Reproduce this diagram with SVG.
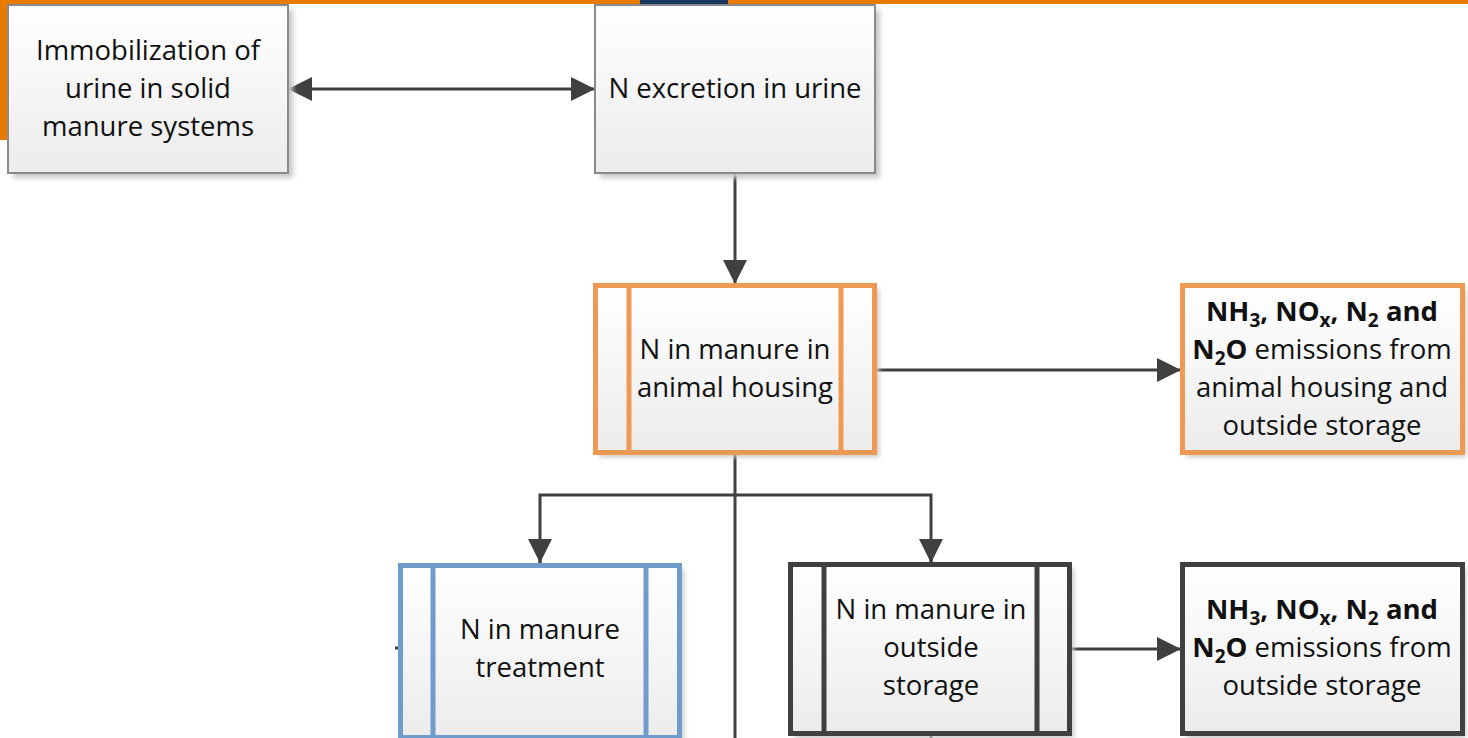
<svg xmlns="http://www.w3.org/2000/svg" width="1468" height="738" viewBox="0 0 1468 738">
<defs>
  <linearGradient id="fillGrad" x1="0" y1="0" x2="0" y2="1">
    <stop offset="0" stop-color="#ffffff"/>
    <stop offset="1" stop-color="#ececec"/>
  </linearGradient>
  <filter id="shadow" x="-10%" y="-10%" width="130%" height="130%">
    <feGaussianBlur stdDeviation="2.5"/>
  </filter>
  <marker id="arrowBig" viewBox="0 0 10 10" refX="10" refY="5" markerWidth="24" markerHeight="24" markerUnits="userSpaceOnUse" orient="auto-start-reverse" preserveAspectRatio="none">
    <path d="M0,0 L10,5 L0,10 z" fill="#404040"/>
  </marker>
</defs>
<style>
  .txt { font-family: "Open Sans", "Noto Sans", "Liberation Sans", sans-serif; font-size: 27.5px; fill: #111; text-anchor: middle; }
  .b { font-weight: bold; }
  .sub { font-size: 19px; }
  .shd { fill: #c8c8c8; filter: url(#shadow); }
  .plain { fill: url(#fillGrad); stroke: #8a8a8a; stroke-width: 2; }
  .orange { fill: url(#fillGrad); stroke: #EE9A55; stroke-width: 5; }
  .blue { fill: url(#fillGrad); stroke: #6E9CCB; stroke-width: 5; }
  .dark { fill: url(#fillGrad); stroke: #404040; stroke-width: 5; }
  .conn { fill: none; stroke: #404040; stroke-width: 3; }
</style>

<rect width="1468" height="738" fill="#ffffff"/>

<!-- page header band -->
<rect x="0" y="0" width="1468" height="4" fill="#E87A00"/>
<rect x="0" y="0" width="7" height="140" fill="#E87A00"/>
<rect x="640" y="0" width="88" height="4" fill="#17375E"/>

<!-- connectors -->
<g id="connectors">
  <line class="conn" x1="288" y1="89" x2="595" y2="89" marker-start="url(#arrowBig)" marker-end="url(#arrowBig)"/>
  <line class="conn" x1="735" y1="173" x2="735" y2="284" marker-end="url(#arrowBig)"/>
  <line class="conn" x1="876" y1="370" x2="1181" y2="370" marker-end="url(#arrowBig)"/>
  <line class="conn" x1="735" y1="454" x2="735" y2="738"/>
  <polyline class="conn" points="540,563 540,495 931,495 931,563"/>
  <line class="conn" x1="540" y1="540" x2="540" y2="563" marker-end="url(#arrowBig)"/>
  <line class="conn" x1="931" y1="540" x2="931" y2="563" marker-end="url(#arrowBig)"/>
  <line class="conn" x1="1071" y1="649" x2="1181" y2="649" marker-end="url(#arrowBig)"/>
  <line class="conn" x1="395" y1="648" x2="400" y2="648"/>
  <line class="conn" x1="540" y1="736" x2="540" y2="738"/>
  <line class="conn" x1="931" y1="736" x2="931" y2="738"/>
</g>

<!-- Immobilization of urine -->
<g id="node-immobilization">
  <rect class="shd" x="13" y="10" width="280" height="168"/>
  <rect class="plain" x="8" y="5" width="280" height="168"/>
  <text class="txt" x="148" y="60">Immobilization of</text>
  <text class="txt" x="148" y="98">urine in solid</text>
  <text class="txt" x="148" y="136">manure systems</text>
</g>

<!-- N excretion in urine -->
<g id="node-excretion">
  <rect class="shd" x="600" y="10" width="280" height="168"/>
  <rect class="plain" x="595" y="5" width="280" height="168"/>
  <text class="txt" x="735" y="98">N excretion in urine</text>
</g>

<!-- N in manure in animal housing -->
<g id="node-housing">
  <rect class="shd" x="599" y="289" width="280" height="168"/>
  <rect class="orange" x="595.5" y="285.5" width="279" height="167"/>
  <line x1="629" y1="285.5" x2="629" y2="452.5" stroke="#EE9A55" stroke-width="5"/>
  <line x1="841" y1="285.5" x2="841" y2="452.5" stroke="#EE9A55" stroke-width="5"/>
  <text class="txt" x="735" y="359">N in manure in</text>
  <text class="txt" x="735" y="397">animal housing</text>
</g>

<!-- emissions from animal housing and outside storage -->
<g id="node-emissions-housing">
  <rect class="shd" x="1186" y="289" width="280" height="168"/>
  <rect class="orange" x="1182.5" y="285.5" width="280" height="167"/>
  <text class="txt" x="1322" y="321"><tspan class="b">NH</tspan><tspan class="b sub" dy="6">3</tspan><tspan class="b" dy="-6">, NO</tspan><tspan class="b sub" dy="6">x</tspan><tspan class="b" dy="-6">, N</tspan><tspan class="b sub" dy="6">2</tspan><tspan class="b" dy="-6"> and</tspan></text>
  <text class="txt" x="1322" y="359"><tspan class="b">N</tspan><tspan class="b sub" dy="6">2</tspan><tspan class="b" dy="-6">O</tspan> emissions from</text>
  <text class="txt" x="1322" y="397">animal housing and</text>
  <text class="txt" x="1322" y="435">outside storage</text>
</g>

<!-- N in manure treatment -->
<g id="node-treatment">
  <rect class="shd" x="404" y="569" width="280" height="172"/>
  <rect class="blue" x="400.5" y="565.5" width="279" height="172"/>
  <line x1="433" y1="565.5" x2="433" y2="737.5" stroke="#6E9CCB" stroke-width="5"/>
  <line x1="646" y1="565.5" x2="646" y2="737.5" stroke="#6E9CCB" stroke-width="5"/>
  <text class="txt" x="540" y="639">N in manure</text>
  <text class="txt" x="540" y="677">treatment</text>
</g>

<!-- N in manure in outside storage -->
<g id="node-storage">
  <rect class="shd" x="794" y="568" width="280" height="170"/>
  <rect class="dark" x="790.5" y="564.5" width="279" height="169"/>
  <line x1="824" y1="564.5" x2="824" y2="733.5" stroke="#404040" stroke-width="5"/>
  <line x1="1037" y1="564.5" x2="1037" y2="733.5" stroke="#404040" stroke-width="5"/>
  <text class="txt" x="931" y="619">N in manure in</text>
  <text class="txt" x="931" y="657">outside</text>
  <text class="txt" x="931" y="695">storage</text>
</g>

<!-- emissions from outside storage -->
<g id="node-emissions-storage">
  <rect class="shd" x="1186" y="568" width="280" height="170"/>
  <rect class="dark" x="1182.5" y="564.5" width="280" height="169"/>
  <text class="txt" x="1322" y="619"><tspan class="b">NH</tspan><tspan class="b sub" dy="6">3</tspan><tspan class="b" dy="-6">, NO</tspan><tspan class="b sub" dy="6">x</tspan><tspan class="b" dy="-6">, N</tspan><tspan class="b sub" dy="6">2</tspan><tspan class="b" dy="-6"> and</tspan></text>
  <text class="txt" x="1322" y="657"><tspan class="b">N</tspan><tspan class="b sub" dy="6">2</tspan><tspan class="b" dy="-6">O</tspan> emissions from</text>
  <text class="txt" x="1322" y="695">outside storage</text>
</g>
</svg>
